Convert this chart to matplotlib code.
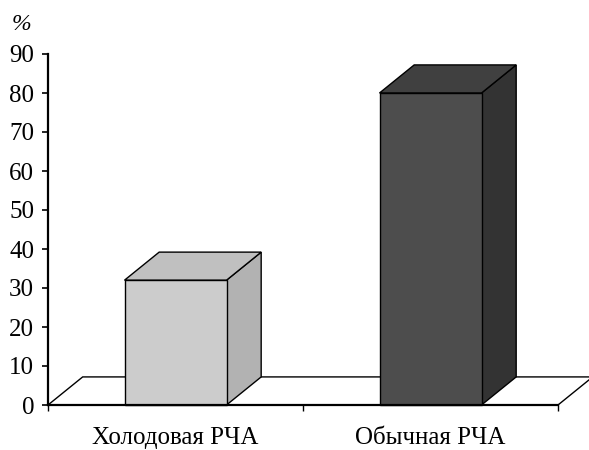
import matplotlib.pyplot as plt
from matplotlib.patches import Polygon

plt.rcParams['font.family'] = ['Liberation Serif', 'DejaVu Serif']

categories = ['Холодовая РЧА', 'Обычная РЧА']
values = [32, 80]
front_colors = ['#cccccc', '#4d4d4d']
top_colors = ['#c0c0c0', '#404040']
side_colors = ['#b2b2b2', '#333333']

# fake depth of the 3D look (x in category units, y in percent)
dx, dy = 0.136, 7.2
width = 0.4

fig = plt.figure(figsize=(5.89, 4.5), dpi=100)
ax = fig.add_axes([48 / 589, 45 / 450, 510 / 589, 351 / 450])
ax.set_xlim(0, 2)
ax.set_ylim(0, 90)

# floor
floor = Polygon([(0, 0), (2, 0), (2 + dx, dy), (dx, dy)], closed=True,
                facecolor='white', edgecolor='black', lw=1, clip_on=False, zorder=1)
ax.add_patch(floor)

pos = [0.5, 1.5]
bars = ax.bar(pos, values, width=width, color=front_colors, edgecolor='black',
              lw=1, zorder=3, clip_on=False)
for b, tc, sc in zip(bars, top_colors, side_colors):
    x0 = b.get_x()
    x1 = x0 + b.get_width()
    h = b.get_height()
    top = Polygon([(x0, h), (x1, h), (x1 + dx, h + dy), (x0 + dx, h + dy)],
                  closed=True, facecolor=tc, edgecolor='black', lw=1,
                  zorder=2, clip_on=False)
    side = Polygon([(x1, 0), (x1 + dx, dy), (x1 + dx, h + dy), (x1, h)],
                   closed=True, facecolor=sc, edgecolor='black', lw=1,
                   zorder=2, clip_on=False)
    ax.add_patch(side)
    ax.add_patch(top)

for s in ['top', 'right']:
    ax.spines[s].set_visible(False)
ax.spines['left'].set_linewidth(1.6)
ax.spines['bottom'].set_linewidth(1.6)
ax.spines['bottom'].set_zorder(4)

ax.set_yticks(range(0, 91, 10))
ax.tick_params(axis='y', direction='out', length=4, width=1.2, labelsize=18, pad=6)
ax.set_xticks([0, 1, 2])
ax.set_xticklabels([])
ax.set_xticks(pos, minor=True)
ax.set_xticklabels(categories, minor=True)
ax.tick_params(axis='x', which='major', direction='out', length=4, width=1)
ax.tick_params(axis='x', which='minor', length=0, labelsize=18, pad=16)

fig.text(21 / 589, 1 - 24 / 450, '%', fontsize=17, style='italic',
         ha='center', va='center')

fig.savefig('out.png', dpi=100)
